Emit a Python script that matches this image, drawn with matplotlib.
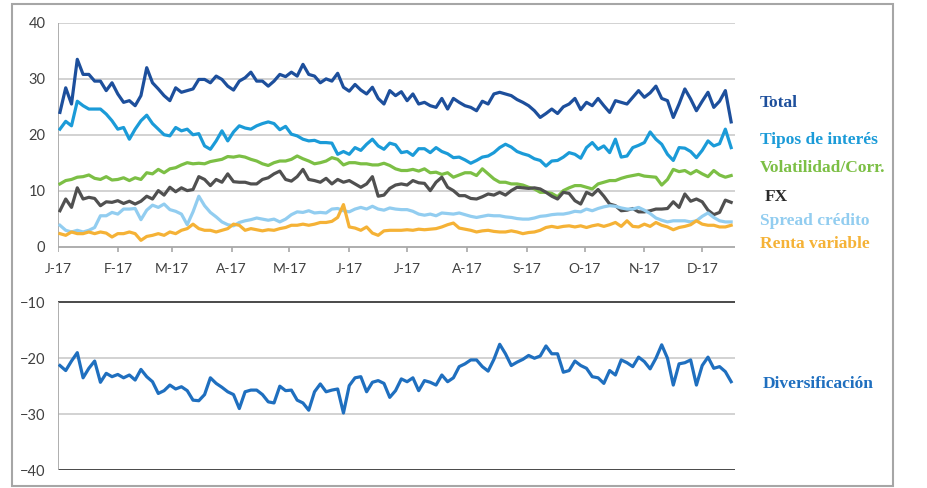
import matplotlib

matplotlib.use("Agg")
import matplotlib.pyplot as plt
from matplotlib.patches import Rectangle
import pandas as pd

# values, one every 3 days from 2 Jan 2017
total = [
    24.0, 28.4, 25.5, 33.5, 30.8, 30.8, 29.6, 29.6, 27.9, 29.3,
    27.3, 25.8, 26.1, 25.2, 27.0, 32.0, 29.3, 28.2, 27.0, 26.1,
    28.4, 27.6, 27.9, 28.2, 29.9, 29.9, 29.3, 30.5, 29.9, 28.7,
    28.0, 29.6, 30.2, 31.2, 29.6, 29.6, 28.7, 29.6, 30.8, 30.4,
    31.2, 30.5, 32.6, 30.8, 30.5, 29.3, 30.0, 29.6, 31.0, 28.5,
    27.8, 29.0, 28.0, 27.3, 28.5, 26.5, 25.5, 27.9, 27.0, 27.7,
    26.1, 27.3, 25.5, 25.8, 25.2, 24.9, 26.5, 24.6, 26.5, 25.8,
    25.2, 24.9, 24.3, 26.0, 25.5, 27.3, 27.6, 27.3, 27.0, 26.3,
    25.8, 25.2, 24.3, 23.1, 23.8, 24.6, 23.8, 25.0, 25.5, 26.5,
    24.5, 25.8, 25.2, 26.5, 25.2, 24.0, 26.1, 25.8, 25.5, 26.7,
    27.9, 26.7, 27.5, 28.7, 26.5, 26.1, 23.1, 25.5, 28.2, 26.4,
    24.3, 26.0, 27.6, 24.9, 26.0, 27.9, 22.3,
]
tipos = [
    21.0, 22.4, 21.6, 26.0, 25.2, 24.6, 24.6, 24.6, 23.7, 22.5,
    21.0, 21.3, 19.2, 21.0, 22.5, 23.5, 22.0, 21.0, 20.0, 19.8,
    21.3, 20.7, 21.0, 20.0, 20.2, 18.0, 17.4, 18.9, 20.7, 18.9,
    20.5, 21.6, 21.2, 21.0, 21.6, 22.0, 22.3, 22.0, 20.9, 21.5,
    20.1, 19.8, 19.2, 18.9, 19.0, 18.6, 18.6, 18.5, 16.5, 17.0,
    16.5, 17.7, 17.2, 18.3, 19.2, 18.0, 17.4, 18.5, 18.2, 16.8,
    17.0, 16.3, 17.5, 17.5, 16.8, 17.7, 17.0, 16.6, 15.9, 16.0,
    15.5, 14.9, 15.4, 16.0, 16.2, 16.8, 17.7, 18.3, 17.8, 17.0,
    16.6, 16.3, 15.7, 15.4, 14.4, 15.3, 15.4, 16.0, 16.8, 16.5,
    15.8, 17.7, 18.6, 17.4, 18.0, 16.8, 19.2, 16.0, 16.2, 17.7,
    18.1, 18.6, 20.5, 19.2, 18.3, 16.5, 15.4, 17.7, 17.6, 17.0,
    15.9, 17.2, 18.9, 18.0, 18.4, 21.0, 17.7,
]
volat = [
    11.2, 11.8, 12.0, 12.4, 12.5, 12.8, 12.2, 12.0, 12.5, 11.9,
    12.0, 12.3, 11.8, 12.3, 12.0, 13.2, 13.0, 13.8, 13.2, 13.9,
    14.1, 14.6, 15.0, 14.8, 14.9, 14.8, 15.2, 15.4, 15.6, 16.1,
    16.0, 16.2, 16.0, 15.6, 15.3, 14.8, 14.5, 15.0, 15.3, 15.3,
    15.6, 16.2, 15.7, 15.3, 14.8, 15.0, 15.3, 15.9, 15.6, 14.6,
    15.0, 15.0, 14.8, 14.8, 14.6, 14.6, 14.9, 14.5, 13.9, 13.6,
    13.6, 13.8, 13.5, 13.9, 13.2, 13.3, 12.9, 13.2, 12.4, 12.8,
    13.2, 13.2, 12.7, 13.9, 13.0, 12.1, 11.5, 11.5, 11.2, 11.2,
    11.0, 10.6, 10.3, 9.7, 9.7, 9.5, 8.9, 10.0, 10.5, 10.9,
    10.9, 10.6, 10.3, 11.2, 11.5, 11.8, 11.8, 12.2, 12.5, 12.7,
    12.9, 12.6, 12.5, 12.4, 11.0, 12.0, 13.8, 13.4, 13.6, 13.0,
    13.6, 13.0, 12.5, 13.6, 12.8, 12.4, 12.7,
]
fx = [
    6.4, 8.5, 7.0, 10.5, 8.5, 8.8, 8.6, 7.3, 8.0, 7.9,
    8.2, 7.7, 8.1, 7.6, 8.1, 9.0, 8.5, 10.0, 9.2, 10.6,
    9.8, 10.5, 10.0, 10.2, 12.5, 12.0, 10.9, 12.0, 11.5, 13.0,
    11.6, 11.5, 11.5, 11.2, 11.2, 12.0, 12.3, 13.0, 13.5, 12.0,
    11.7, 12.5, 13.8, 12.0, 11.8, 11.5, 12.2, 11.2, 12.0, 11.5,
    11.8, 11.2, 10.6, 11.2, 12.5, 9.0, 9.2, 10.4, 11.0, 11.2,
    11.0, 11.8, 11.4, 11.3, 10.0, 11.5, 12.4, 10.6, 10.0, 9.1,
    9.1, 8.6, 8.5, 8.9, 9.4, 9.2, 9.7, 9.2, 10.0, 10.6,
    10.5, 10.4, 10.5, 10.3, 9.7, 9.0, 8.5, 9.7, 9.5, 8.2,
    7.6, 9.7, 9.2, 10.2, 9.0, 7.6, 7.3, 6.4, 6.5, 6.8,
    6.2, 6.2, 6.4, 6.7, 6.7, 6.8, 8.0, 7.0, 9.4, 8.1,
    8.5, 8.0, 6.5, 5.7, 6.1, 8.3, 7.9,
]
spread = [
    3.8, 2.9, 2.6, 2.9, 2.6, 2.9, 3.4, 5.5, 5.5, 6.1,
    5.8, 6.7, 6.7, 6.8, 4.8, 6.5, 7.4, 7.0, 7.6, 6.6,
    6.3, 5.8, 3.9, 6.2, 9.0, 7.3, 6.1, 5.3, 4.4, 3.9,
    3.7, 4.3, 4.6, 4.8, 5.1, 4.9, 4.7, 4.9, 4.4, 4.9,
    5.7, 6.2, 6.1, 6.4, 6.0, 6.1, 6.0, 6.7, 6.8, 6.4,
    6.2, 6.7, 7.0, 6.7, 7.2, 6.7, 6.5, 6.9, 6.7, 6.6,
    6.6, 6.3, 5.8, 5.6, 5.8, 5.5, 6.0, 5.9, 5.8, 6.0,
    5.7, 5.4, 5.2, 5.4, 5.6, 5.5, 5.5, 5.3, 5.2, 5.0,
    4.9, 4.9, 5.1, 5.4, 5.5, 5.7, 5.8, 5.8, 6.0, 6.3,
    6.2, 6.7, 6.4, 6.8, 7.1, 7.3, 7.2, 6.9, 6.7, 6.7,
    7.0, 6.5, 5.9, 5.1, 4.7, 4.4, 4.6, 4.6, 4.6, 4.4,
    4.6, 5.4, 6.0, 5.2, 4.6, 4.4, 4.4,
]
renta = [
    2.3, 2.0, 2.6, 2.3, 2.3, 2.6, 2.3, 2.6, 2.4, 1.7,
    2.3, 2.3, 2.6, 2.3, 1.1, 1.8, 2.0, 2.3, 2.0, 2.6,
    2.3, 2.9, 3.2, 4.0, 3.2, 2.9, 2.9, 2.6, 2.9, 3.2,
    4.0, 3.8, 2.9, 3.2, 3.0, 2.8, 3.0, 2.9, 3.2, 3.4,
    3.8, 3.8, 4.0, 3.8, 4.0, 4.3, 4.3, 4.5, 5.2, 7.5,
    3.5, 3.3, 2.9, 3.5, 2.4, 2.0, 2.8, 2.9, 2.9, 2.9,
    3.0, 2.9, 3.1, 3.0, 3.1, 3.2, 3.5, 3.9, 4.2, 3.3,
    3.1, 2.9, 2.6, 2.8, 2.9, 2.7, 2.6, 2.6, 2.8, 2.6,
    2.3, 2.5, 2.6, 2.9, 3.4, 3.6, 3.4, 3.6, 3.7, 3.5,
    3.7, 3.4, 3.7, 3.9, 3.6, 3.9, 4.3, 3.6, 4.6, 3.6,
    3.5, 4.0, 3.6, 4.3, 3.8, 3.5, 3.0, 3.4, 3.6, 3.9,
    4.6, 4.0, 3.8, 3.8, 3.5, 3.5, 3.8,
]
divers = [
    -21.3, -22.2, -20.5, -19.0, -23.5, -21.8, -20.5, -24.3, -22.7, -23.3,
    -22.9, -23.5, -23.0, -23.9, -22.0, -23.3, -24.2, -26.3, -25.8, -24.8,
    -25.5, -25.1, -25.8, -27.5, -27.6, -26.5, -23.5, -24.5, -25.2, -26.0,
    -26.5, -29.0, -26.0, -25.7, -25.7, -26.5, -27.8, -28.0, -25.0, -25.8,
    -25.7, -27.5, -28.0, -29.3, -26.0, -24.6, -26.0, -25.7, -25.5, -29.8,
    -24.9, -23.5, -23.3, -26.0, -24.3, -24.0, -24.5, -27.0, -25.8, -23.7,
    -24.2, -23.5, -25.8, -24.0, -24.3, -24.8, -23.0, -24.2, -23.5, -21.5,
    -21.0, -20.3, -20.3, -21.5, -22.3, -20.2, -17.5, -19.2, -21.3, -20.7,
    -20.2, -19.5, -20.0, -19.6, -17.8, -19.2, -19.2, -22.5, -22.2, -20.5,
    -21.3, -21.8, -23.3, -23.5, -24.5, -22.2, -23.0, -20.3, -20.8, -21.5,
    -19.8, -20.6, -21.9, -20.0, -17.6, -20.0, -24.8, -21.0, -20.8, -20.3,
    -24.8, -21.3, -19.8, -21.8, -21.5, -22.4, -24.2,
]

month_labels = ["J-17", "F-17", "M-17", "A-17", "M-17", "J-17",
                "J-17", "A-17", "S-17", "O-17", "N-17", "D-17"]
y_ticks = [-40, -30, -20, -10, 0, 10, 20, 30, 40]

dates = pd.date_range("2017-01-02", periods=len(total), freq="3D")
months = pd.date_range("2017-01-01", "2017-12-01", freq="MS")
x_start = pd.Timestamp("2017-01-01")
x_end = pd.Timestamp("2017-12-18")

series = [
    ("Total", total, "#1D4F9C"),
    ("Tipos de interés", tipos, "#1B9BD8"),
    ("Volatilidad/Corr.", volat, "#7CBF45"),
    ("FX", fx, "#505050"),
    ("Spread crédito", spread, "#92CDF0"),
    ("Renta variable", renta, "#F5B236"),
]
label_colors = ["#1D4F9C", "#1B9BD8", "#7CBF45", "#2A2A2A", "#92CDF0", "#F5B236"]
div_color = "#1F6FBF"

fig = plt.figure(figsize=(9.28, 4.88), dpi=100)
ax = fig.add_axes([58 / 928, 1 - 470 / 488, 677 / 928, 447 / 488])

# grid / axis lines
grid_c = "#C6C6C6"
for y in [10, 20, 30, 40, -20, -30]:
    ax.axhline(y, color=grid_c, lw=1.1, zorder=1)
for y in [-10, -40]:
    ax.axhline(y, color="#3A3A3A", lw=1.3, zorder=1)
ax.axhline(0, color="#A8A8A8", lw=1.3, zorder=1)
ax.vlines(x_start, 0, 40, color="#A8A8A8", lw=1.3, zorder=1)
ax.vlines(x_start, -40, -10, color="#A8A8A8", lw=1.3, zorder=1)
ax.vlines(months, -0.9, 0, color="#A8A8A8", lw=1.2, zorder=1)

for name, vals, col in series:
    ax.plot(dates, vals, color=col, lw=2.3, zorder=3)
ax.plot(dates, divers, color=div_color, lw=2.3, zorder=3)

for d, lab in zip(months, month_labels):
    ax.text(d, -4.0, lab, ha="center", va="center", fontsize=10,
            color="#404040", family="Lato")

ax.set_xlim(x_start, x_end)
ax.set_ylim(-40, 40)
ax.set_yticks(y_ticks)
ax.set_xticks([])
ax.tick_params(axis="y", length=0, pad=9, labelsize=10.5, labelcolor="#404040")
for lab in ax.get_yticklabels():
    lab.set_family("Lato")
for s in ax.spines.values():
    s.set_visible(False)

# labels on the right
label_pos = [103, 140, 168, 197, 221, 244]
label_x = [760, 760, 760, 765, 760, 760]
for (name, vals, col), lc, py, px in zip(series, label_colors, label_pos, label_x):
    fig.text(px / 928, 1 - py / 488, name, color=lc, fontsize=12.5,
             fontweight="bold", family="Liberation Serif", va="center")
fig.text(763 / 928, 1 - 384 / 488, "Diversificación", color=div_color,
         fontsize=12.5, fontweight="bold", family="Liberation Serif", va="center")

# outer frame
fig.patches.append(Rectangle((12 / 928, 1 - 486 / 488), 881 / 928, 482 / 488,
                             transform=fig.transFigure, fill=False,
                             edgecolor="#A6A6A6", lw=1.5))

fig.savefig("out.png", dpi=100)
